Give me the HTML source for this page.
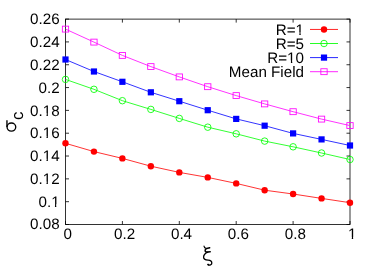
<!DOCTYPE html>
<html><head><meta charset="utf-8"><title>chart</title>
<style>
html,body{margin:0;padding:0;background:#fff;}
body{width:382px;height:267px;overflow:hidden;}
svg{display:block;position:absolute;left:0;top:0;font-family:"Liberation Sans",sans-serif;fill:#000;text-rendering:geometricPrecision;will-change:transform;}
</style></head><body>
<svg width="382" height="267" viewBox="0 0 382 267">
<rect x="0" y="0" width="382" height="267" fill="#fff"/>
<rect x="65.5" y="19.1" width="284.5" height="205.4" fill="none" stroke="#000" stroke-width="0.8"/>
<path d="M65.5,224.50h3.5M350.0,224.50h-3.5" stroke="#000" stroke-width="0.8" fill="none"/>
<path d="M65.5,201.68h3.5M350.0,201.68h-3.5" stroke="#000" stroke-width="0.8" fill="none"/>
<path d="M65.5,178.86h3.5M350.0,178.86h-3.5" stroke="#000" stroke-width="0.8" fill="none"/>
<path d="M65.5,156.03h3.5M350.0,156.03h-3.5" stroke="#000" stroke-width="0.8" fill="none"/>
<path d="M65.5,133.21h3.5M350.0,133.21h-3.5" stroke="#000" stroke-width="0.8" fill="none"/>
<path d="M65.5,110.39h3.5M350.0,110.39h-3.5" stroke="#000" stroke-width="0.8" fill="none"/>
<path d="M65.5,87.57h3.5M350.0,87.57h-3.5" stroke="#000" stroke-width="0.8" fill="none"/>
<path d="M65.5,64.74h3.5M350.0,64.74h-3.5" stroke="#000" stroke-width="0.8" fill="none"/>
<path d="M65.5,41.92h3.5M350.0,41.92h-3.5" stroke="#000" stroke-width="0.8" fill="none"/>
<path d="M65.5,19.10h3.5M350.0,19.10h-3.5" stroke="#000" stroke-width="0.8" fill="none"/>
<path d="M65.50,224.5v-3.5M65.50,19.1v3.5" stroke="#000" stroke-width="0.8" fill="none"/>
<path d="M122.40,224.5v-3.5M122.40,19.1v3.5" stroke="#000" stroke-width="0.8" fill="none"/>
<path d="M179.30,224.5v-3.5M179.30,19.1v3.5" stroke="#000" stroke-width="0.8" fill="none"/>
<path d="M236.20,224.5v-3.5M236.20,19.1v3.5" stroke="#000" stroke-width="0.8" fill="none"/>
<path d="M293.10,224.5v-3.5M293.10,19.1v3.5" stroke="#000" stroke-width="0.8" fill="none"/>
<path d="M350.00,224.5v-3.5M350.00,19.1v3.5" stroke="#000" stroke-width="0.8" fill="none"/>
<text x="59.6" y="229.25" transform="rotate(0.02 59.6 229.25)" text-anchor="end" font-size="15.2">0.08</text>
<text x="59.6" y="206.73" transform="rotate(0.02 59.6 206.73)" text-anchor="end" font-size="15.2">0.1</text>
<text x="59.6" y="184.01" transform="rotate(0.02 59.6 184.01)" text-anchor="end" font-size="15.2">0.12</text>
<text x="59.6" y="161.23" transform="rotate(0.02 59.6 161.23)" text-anchor="end" font-size="15.2">0.14</text>
<text x="59.6" y="138.51" transform="rotate(0.02 59.6 138.51)" text-anchor="end" font-size="15.2">0.16</text>
<text x="59.6" y="115.64" transform="rotate(0.02 59.6 115.64)" text-anchor="end" font-size="15.2">0.18</text>
<text x="59.6" y="92.77" transform="rotate(0.02 59.6 92.77)" text-anchor="end" font-size="15.2">0.2</text>
<text x="59.6" y="69.89" transform="rotate(0.02 59.6 69.89)" text-anchor="end" font-size="15.2">0.22</text>
<text x="59.6" y="47.02" transform="rotate(0.02 59.6 47.02)" text-anchor="end" font-size="15.2">0.24</text>
<text x="59.6" y="24.20" transform="rotate(0.02 59.6 24.20)" text-anchor="end" font-size="15.2">0.26</text>
<text x="67.70" y="239.4" transform="rotate(0.02 67.70 239.4)" text-anchor="middle" font-size="15.2">0</text>
<text x="124.60" y="239.4" transform="rotate(0.02 124.60 239.4)" text-anchor="middle" font-size="15.2">0.2</text>
<text x="181.50" y="239.4" transform="rotate(0.02 181.50 239.4)" text-anchor="middle" font-size="15.2">0.4</text>
<text x="238.40" y="239.4" transform="rotate(0.02 238.40 239.4)" text-anchor="middle" font-size="15.2">0.6</text>
<text x="295.30" y="239.4" transform="rotate(0.02 295.30 239.4)" text-anchor="middle" font-size="15.2">0.8</text>
<text x="352.20" y="239.4" transform="rotate(0.02 352.20 239.4)" text-anchor="middle" font-size="15.2">1</text>
<polyline points="65.50,143.30 93.95,151.60 122.40,158.40 150.85,166.20 179.30,172.40 207.75,177.40 236.20,183.40 264.65,190.20 293.10,194.00 321.55,198.40 350.00,202.70" fill="none" stroke="#ff0000" stroke-width="0.8"/>
<polyline points="65.50,79.40 93.95,89.30 122.40,100.70 150.85,109.40 179.30,118.40 207.75,127.20 236.20,133.80 264.65,141.10 293.10,146.80 321.55,153.00 350.00,159.50" fill="none" stroke="#00ff00" stroke-width="0.8"/>
<polyline points="65.50,59.50 93.95,71.50 122.40,81.80 150.85,92.30 179.30,101.20 207.75,110.20 236.20,118.90 264.65,125.70 293.10,133.40 321.55,139.40 350.00,145.50" fill="none" stroke="#0000ff" stroke-width="0.8"/>
<polyline points="65.50,29.10 93.95,42.10 122.40,55.40 150.85,66.60 179.30,76.90 207.75,86.70 236.20,95.60 264.65,103.90 293.10,111.70 321.55,119.10 350.00,125.60" fill="none" stroke="#ff00ff" stroke-width="0.8"/>
<circle cx="65.50" cy="143.30" r="3.2" fill="#ff0000"/>
<circle cx="93.95" cy="151.60" r="3.2" fill="#ff0000"/>
<circle cx="122.40" cy="158.40" r="3.2" fill="#ff0000"/>
<circle cx="150.85" cy="166.20" r="3.2" fill="#ff0000"/>
<circle cx="179.30" cy="172.40" r="3.2" fill="#ff0000"/>
<circle cx="207.75" cy="177.40" r="3.2" fill="#ff0000"/>
<circle cx="236.20" cy="183.40" r="3.2" fill="#ff0000"/>
<circle cx="264.65" cy="190.20" r="3.2" fill="#ff0000"/>
<circle cx="293.10" cy="194.00" r="3.2" fill="#ff0000"/>
<circle cx="321.55" cy="198.40" r="3.2" fill="#ff0000"/>
<circle cx="350.00" cy="202.70" r="3.2" fill="#ff0000"/>
<circle cx="65.50" cy="79.40" r="3.25" fill="none" stroke="#00ff00" stroke-width="0.85"/>
<circle cx="93.95" cy="89.30" r="3.25" fill="none" stroke="#00ff00" stroke-width="0.85"/>
<circle cx="122.40" cy="100.70" r="3.25" fill="none" stroke="#00ff00" stroke-width="0.85"/>
<circle cx="150.85" cy="109.40" r="3.25" fill="none" stroke="#00ff00" stroke-width="0.85"/>
<circle cx="179.30" cy="118.40" r="3.25" fill="none" stroke="#00ff00" stroke-width="0.85"/>
<circle cx="207.75" cy="127.20" r="3.25" fill="none" stroke="#00ff00" stroke-width="0.85"/>
<circle cx="236.20" cy="133.80" r="3.25" fill="none" stroke="#00ff00" stroke-width="0.85"/>
<circle cx="264.65" cy="141.10" r="3.25" fill="none" stroke="#00ff00" stroke-width="0.85"/>
<circle cx="293.10" cy="146.80" r="3.25" fill="none" stroke="#00ff00" stroke-width="0.85"/>
<circle cx="321.55" cy="153.00" r="3.25" fill="none" stroke="#00ff00" stroke-width="0.85"/>
<circle cx="350.00" cy="159.50" r="3.25" fill="none" stroke="#00ff00" stroke-width="0.85"/>
<rect x="62.40" y="56.40" width="6.2" height="6.2" fill="#0000ff"/>
<rect x="90.85" y="68.40" width="6.2" height="6.2" fill="#0000ff"/>
<rect x="119.30" y="78.70" width="6.2" height="6.2" fill="#0000ff"/>
<rect x="147.75" y="89.20" width="6.2" height="6.2" fill="#0000ff"/>
<rect x="176.20" y="98.10" width="6.2" height="6.2" fill="#0000ff"/>
<rect x="204.65" y="107.10" width="6.2" height="6.2" fill="#0000ff"/>
<rect x="233.10" y="115.80" width="6.2" height="6.2" fill="#0000ff"/>
<rect x="261.55" y="122.60" width="6.2" height="6.2" fill="#0000ff"/>
<rect x="290.00" y="130.30" width="6.2" height="6.2" fill="#0000ff"/>
<rect x="318.45" y="136.30" width="6.2" height="6.2" fill="#0000ff"/>
<rect x="346.90" y="142.40" width="6.2" height="6.2" fill="#0000ff"/>
<rect x="62.35" y="26.15" width="6.3" height="5.9" fill="none" stroke="#ff00ff" stroke-width="0.85"/>
<rect x="90.80" y="39.15" width="6.3" height="5.9" fill="none" stroke="#ff00ff" stroke-width="0.85"/>
<rect x="119.25" y="52.45" width="6.3" height="5.9" fill="none" stroke="#ff00ff" stroke-width="0.85"/>
<rect x="147.70" y="63.65" width="6.3" height="5.9" fill="none" stroke="#ff00ff" stroke-width="0.85"/>
<rect x="176.15" y="73.95" width="6.3" height="5.9" fill="none" stroke="#ff00ff" stroke-width="0.85"/>
<rect x="204.60" y="83.75" width="6.3" height="5.9" fill="none" stroke="#ff00ff" stroke-width="0.85"/>
<rect x="233.05" y="92.65" width="6.3" height="5.9" fill="none" stroke="#ff00ff" stroke-width="0.85"/>
<rect x="261.50" y="100.95" width="6.3" height="5.9" fill="none" stroke="#ff00ff" stroke-width="0.85"/>
<rect x="289.95" y="108.75" width="6.3" height="5.9" fill="none" stroke="#ff00ff" stroke-width="0.85"/>
<rect x="318.40" y="116.15" width="6.3" height="5.9" fill="none" stroke="#ff00ff" stroke-width="0.85"/>
<rect x="346.85" y="122.65" width="6.3" height="5.9" fill="none" stroke="#ff00ff" stroke-width="0.85"/>
<text x="304.0" y="34.65" transform="rotate(0.02 304 34.65)" text-anchor="end" font-size="15.2">R=1</text>
<path d="M310,29.45H338" stroke="#ff0000" stroke-width="0.85" fill="none"/>
<circle cx="324.00" cy="29.45" r="3.2" fill="#ff0000"/>
<text x="304.0" y="48.70" transform="rotate(0.02 304 48.70)" text-anchor="end" font-size="15.2">R=5</text>
<path d="M310,43.5H338" stroke="#00ff00" stroke-width="0.85" fill="none"/>
<circle cx="324.00" cy="43.50" r="3.25" fill="none" stroke="#00ff00" stroke-width="0.85"/>
<text x="304.0" y="62.80" transform="rotate(0.02 304 62.80)" text-anchor="end" font-size="15.2">R=10</text>
<path d="M310,57.6H338" stroke="#0000ff" stroke-width="0.85" fill="none"/>
<rect x="320.90" y="54.50" width="6.2" height="6.2" fill="#0000ff"/>
<text x="304.0" y="76.90" transform="rotate(0.02 304 76.90)" text-anchor="end" font-size="15.2">Mean Field</text>
<path d="M310,71.7H338" stroke="#ff00ff" stroke-width="0.85" fill="none"/>
<rect x="320.85" y="68.75" width="6.3" height="5.9" fill="none" stroke="#ff00ff" stroke-width="0.85"/>
<g fill="none" stroke="#000" stroke-linecap="round" stroke-linejoin="round"><title>ξ</title><path d="M204.0,246.1C204.1,247.4 205.0,248.2 206.4,248.3" stroke-width="1.1"/><path d="M209.7,247.8C207.6,248.7 205.7,248.0 205.2,249.9C204.8,251.4 205.9,252.1 207.6,252.0L210.2,251.8" stroke-width="1.5"/><path d="M207.9,252.1C205.0,253.2 203.5,255.2 203.6,257.3C203.6,259.7 205.9,260.0 208.1,260.2C210.6,260.4 211.8,261.3 211.8,262.9C211.8,264.6 210.0,265.5 208.4,265.1" stroke-width="1.3"/><circle cx="208.1" cy="264.5" r="0.6" fill="#000" stroke-width="0.8"/></g>
<g fill="none" stroke="#000" stroke-width="1.35"><title>σ</title><ellipse cx="11.4" cy="127.05" rx="4.35" ry="4.1"/><path d="M6.95,120.2V127"/></g>
<g transform="translate(16.3,132) rotate(-90)"><text x="12.0" y="6.7" font-size="16.8">c</text></g>
<rect x="51.189" y="204.294" width="3.764" height="3.436" fill="#fff"/>
<rect x="56.297" y="204.294" width="3.646" height="3.436" fill="#fff"/>
<rect x="42.752" y="181.574" width="3.764" height="3.436" fill="#fff"/>
<rect x="47.859" y="181.574" width="3.646" height="3.436" fill="#fff"/>
<rect x="42.752" y="158.794" width="3.764" height="3.436" fill="#fff"/>
<rect x="47.859" y="158.794" width="3.646" height="3.436" fill="#fff"/>
<rect x="42.752" y="136.074" width="3.764" height="3.436" fill="#fff"/>
<rect x="47.859" y="136.074" width="3.646" height="3.436" fill="#fff"/>
<rect x="42.752" y="113.204" width="3.764" height="3.436" fill="#fff"/>
<rect x="47.859" y="113.204" width="3.646" height="3.436" fill="#fff"/>
<rect x="348.031" y="236.964" width="3.764" height="3.436" fill="#fff"/>
<rect x="353.139" y="236.964" width="3.646" height="3.436" fill="#fff"/>
<rect x="295.589" y="32.214" width="3.764" height="3.436" fill="#fff"/>
<rect x="300.697" y="32.214" width="3.646" height="3.436" fill="#fff"/>
<rect x="287.152" y="60.364" width="3.764" height="3.436" fill="#fff"/>
<rect x="292.259" y="60.364" width="3.646" height="3.436" fill="#fff"/>
</svg>
</body></html>
